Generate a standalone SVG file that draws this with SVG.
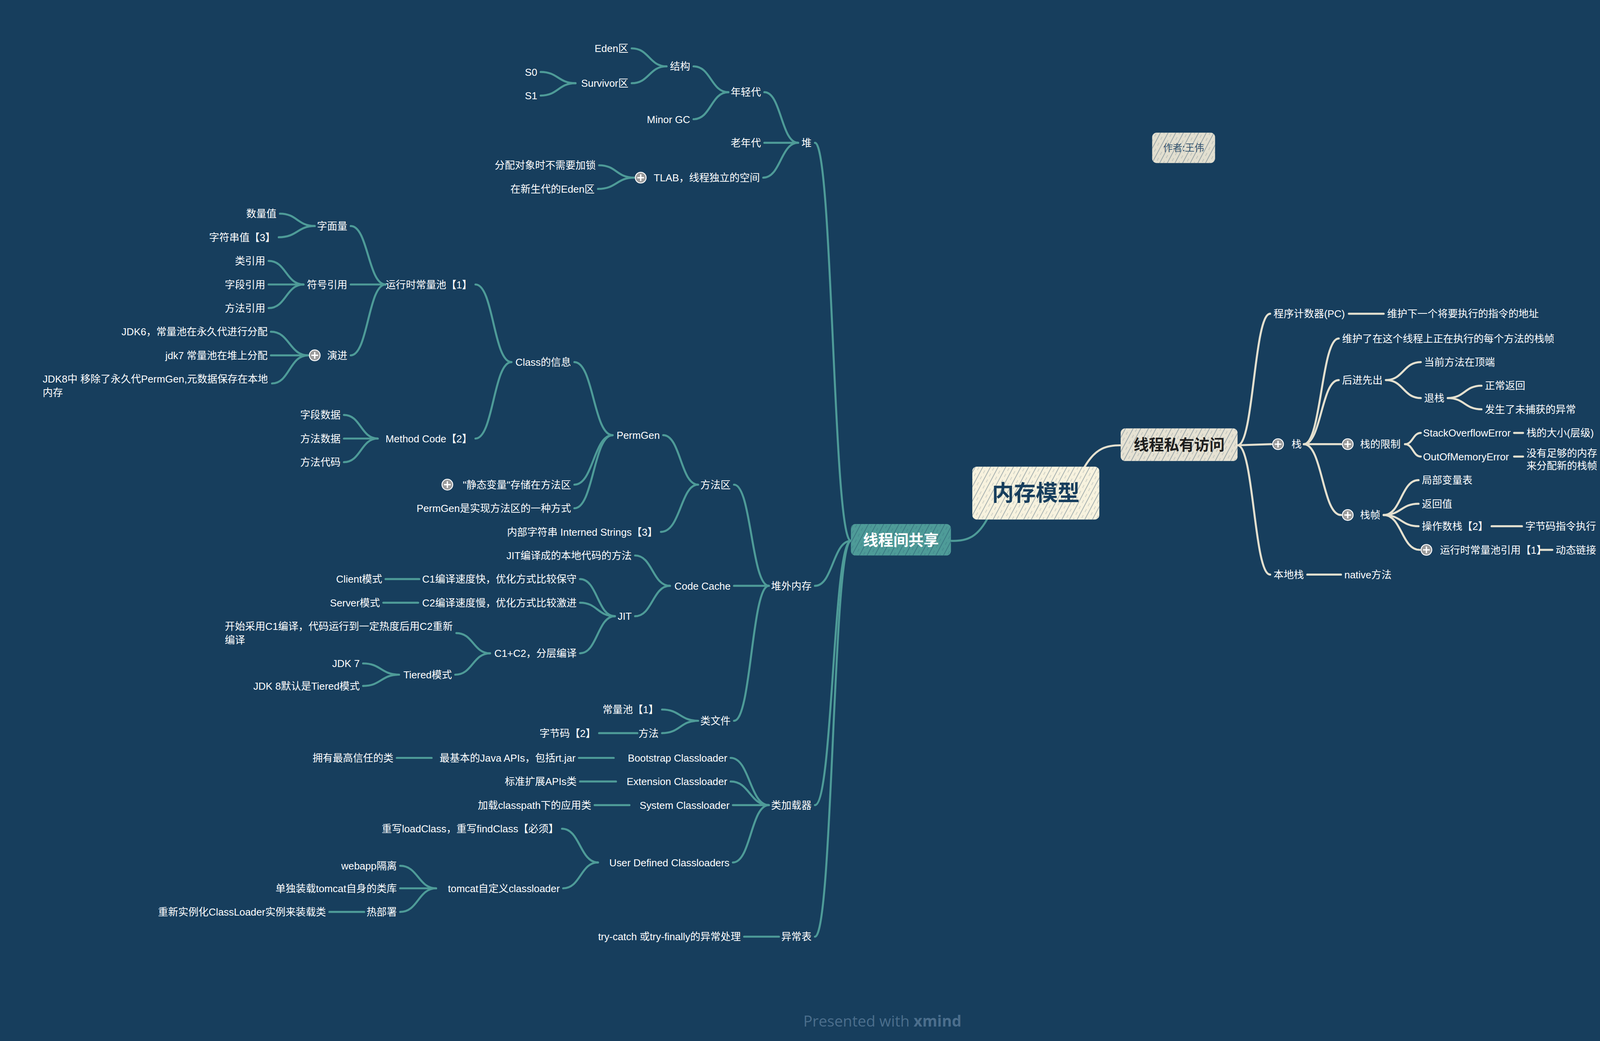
<svg xmlns="http://www.w3.org/2000/svg" width="4512" height="2664" viewBox="0 0 4512 2664">
<defs>
<style>
.t{font-family:"Liberation Sans","Noto Sans CJK SC",sans-serif;font-size:9px;fill:#ffffff}
.e{text-anchor:end}
.lt{fill:none;stroke:#4e9b98;stroke-width:1.8;stroke-linecap:round}
.lc{fill:none;stroke:#e4e0cf;stroke-width:1.8;stroke-linecap:round}
.ic circle{fill:#9b9b9b;stroke:#ffffff;stroke-width:0.8}
.ic path{stroke:#ffffff;stroke-width:1.2;fill:none}
</style>
<pattern id="hatch" patternUnits="userSpaceOnUse" width="6" height="6" patternTransform="rotate(28)">
<line x1="1" y1="0" x2="1" y2="6" stroke="#173e5d" stroke-width="0.45" stroke-opacity="0.55"/>
<line x1="4" y1="0" x2="4" y2="3" stroke="#173e5d" stroke-width="0.3" stroke-opacity="0.4"/>
</pattern>
</defs>
<rect width="4512" height="2664" fill="#173e5d"/>
<g transform="scale(2.87755)">

<g id="connectors">
<path class="lt" d="M878,462 C868,480 858,481 846,481"/>
<path class="lc" d="M965,415 C975,398 985,396 997,396"/>
<!-- left tree -->
<path class="lt" d="M757,481 C741,481 741,127 725,127"/>
<path class="lt" d="M757,481 C741,481 741,521 725,521"/>
<path class="lt" d="M757,481 C741,481 741,716 725,716"/>
<path class="lt" d="M757,481 C741,481 741,833 725,833"/>
<path class="lt" d="M710,127 C695,127 695,82 680,82"/>
<path class="lt" d="M710,127 L680,127"/>
<path class="lt" d="M710,127 C694.5,127 694.5,158 679,158"/>
<path class="lt" d="M648,82 C632.5,82 632.5,59 617,59"/>
<path class="lt" d="M648,82 C632.5,82 632.5,106 617,106"/>
<path class="lt" d="M593,59 C577.5,59 577.5,43 562,43"/>
<path class="lt" d="M593,59 C577.5,59 577.5,74 562,74"/>
<path class="lt" d="M512,74 C496.5,74 496.5,64 481,64"/>
<path class="lt" d="M512,74 C496.5,74 496.5,85 481,85"/>
<path class="lt" d="M564,158 C548.5,158 548.5,147 533,147"/>
<path class="lt" d="M564,158 C548.5,158 548.5,168 532,168"/>
<path class="lt" d="M684,521 C668.5,521 668.5,431 653,431"/>
<path class="lt" d="M684,521 L653,521"/>
<path class="lt" d="M684,521 C668.5,521 668.5,641 653,641"/>
<path class="lt" d="M621,431 C605.5,431 605.5,387 590,387"/>
<path class="lt" d="M621,431 C605.5,431 605.5,473 588,473"/>
<path class="lt" d="M545,387 C528,387 528,322 511,322"/>
<path class="lt" d="M545,387 C528,387 528,431 511,431"/>
<path class="lt" d="M545,387 C528,387 528,452 511,452"/>
<path class="lt" d="M455,322 C439,322 439,253 423,253"/>
<path class="lt" d="M455,322 C439,322 439,390 423,390"/>
<path class="lt" d="M343,253 C327.5,253 327.5,201 312,201"/>
<path class="lt" d="M343,253 L312,253"/>
<path class="lt" d="M343,253 C327.5,253 327.5,316 312,316"/>
<path class="lt" d="M280,201 C264.5,201 264.5,190 249,190"/>
<path class="lt" d="M280,201 C264.5,201 264.5,211 248,211"/>
<path class="lt" d="M270,253 C254.5,253 254.5,232 239,232"/>
<path class="lt" d="M270,253 L239,253"/>
<path class="lt" d="M270,253 C254.5,253 254.5,274 239,274"/>
<path class="lt" d="M274,316 C257.5,316 257.5,295 241,295"/>
<path class="lt" d="M274,316 L241,316"/>
<path class="lt" d="M274,316 C257.5,316 257.5,341 242,341"/>
<path class="lt" d="M336,390 C321,390 321,369 306,369"/>
<path class="lt" d="M336,390 L306,390"/>
<path class="lt" d="M336,390 C321,390 321,411 306,411"/>
<path class="lt" d="M596,521 C580.5,521 580.5,494 565,494"/>
<path class="lt" d="M596,521 C580.5,521 580.5,548 565,548"/>
<path class="lt" d="M547,548 C531.5,548 531.5,515 516,515"/>
<path class="lt" d="M547,548 C531.5,548 531.5,536 516,536"/>
<path class="lt" d="M547,548 C531.5,548 531.5,581 516,581"/>
<path class="lt" d="M373,515 L343,515"/>
<path class="lt" d="M372,536 L341,536"/>
<path class="lt" d="M436,581 C421,581 421,563 406,563"/>
<path class="lt" d="M436,581 C420.5,581 420.5,600 405,600"/>
<path class="lt" d="M355,600 C339,600 339,590 323,590"/>
<path class="lt" d="M355,600 C339,600 339,610 323,610"/>
<path class="lt" d="M621,641 C605,641 605,631 589,631"/>
<path class="lt" d="M621,641 C605,641 605,652 589,652"/>
<path class="lt" d="M567,652 L533,652"/>
<path class="lt" d="M684,716 C667,716 667,674 650,674"/>
<path class="lt" d="M684,716 C667,716 667,695 650,695"/>
<path class="lt" d="M684,716 L652,716"/>
<path class="lt" d="M684,716 C668,716 668,767 652,767"/>
<path class="lt" d="M546,674 L515,674"/>
<path class="lt" d="M384,674 L353,674"/>
<path class="lt" d="M548,695 L516,695"/>
<path class="lt" d="M560,716 L529,716"/>
<path class="lt" d="M532,767 C516,767 516,737 500,737"/>
<path class="lt" d="M532,767 C516.5,767 516.5,790 501,790"/>
<path class="lt" d="M388,790 C372,790 372,770 356,770"/>
<path class="lt" d="M388,790 L356,790"/>
<path class="lt" d="M388,790 C372,790 372,811 356,811"/>
<path class="lt" d="M324,811 L293,811"/>
<path class="lt" d="M693,833 L662,833"/>
<!-- right tree -->
<path class="lc" d="M1101,396 C1115.5,396 1115.5,279 1130,279"/>
<path class="lc" d="M1101,396 L1131,395"/>
<path class="lc" d="M1101,396 C1115.5,396 1115.5,511 1130,511"/>
<path class="lc" d="M1200,279 L1231,279"/>
<path class="lc" d="M1160,395 C1175.5,395 1175.5,301 1191,301"/>
<path class="lc" d="M1160,395 C1175.5,395 1175.5,338 1191,338"/>
<path class="lc" d="M1160,395 L1193,395"/>
<path class="lc" d="M1160,395 C1176.5,395 1176.5,458 1193,458"/>
<path class="lc" d="M1233,338 C1248.5,338 1248.5,322 1264,322"/>
<path class="lc" d="M1233,338 C1248.5,338 1248.5,354 1264,354"/>
<path class="lc" d="M1288,354 C1303,354 1303,343 1318,343"/>
<path class="lc" d="M1288,354 C1303,354 1303,364 1318,364"/>
<path class="lc" d="M1250,395 C1257,395 1257,385 1264,385"/>
<path class="lc" d="M1250,395 C1257,395 1257,406 1264,406"/>
<path class="lc" d="M1347,385 L1355,385"/>
<path class="lc" d="M1347,406 L1355,406"/>
<path class="lc" d="M1231,458 C1246.5,458 1246.5,427 1262,427"/>
<path class="lc" d="M1231,458 C1246.5,458 1246.5,448 1262,448"/>
<path class="lc" d="M1231,458 C1246.5,458 1246.5,468 1262,468"/>
<path class="lc" d="M1231,458 C1247,458 1247,489 1263,489"/>
<path class="lc" d="M1327,468 L1354,468"/>
<path class="lc" d="M1370,489 L1381,489"/>
<path class="lc" d="M1163,511 L1193,511"/>
</g>

<!-- central topics -->
<g id="n-root">
<rect x="865" y="415" width="113" height="47" rx="4" fill="#f7f2de"/>
<rect x="865" y="415" width="113" height="47" rx="4" fill="url(#hatch)"/>
<text x="921.5" y="445" text-anchor="middle" style="font-family:'Noto Sans CJK SC',sans-serif;font-size:19.5px;font-weight:bold;fill:#173e5d">内存模型</text>
</g>
<g id="n-shared">
<rect x="757" y="466" width="89" height="28" rx="4" fill="#4e9b98"/>
<rect x="757" y="466" width="89" height="28" rx="4" fill="url(#hatch)"/>
<text x="801.5" y="485" text-anchor="middle" style="font-family:'Noto Sans CJK SC',sans-serif;font-size:13.5px;font-weight:bold;fill:#ffffff">线程间共享</text>
</g>
<g id="n-private">
<rect x="997" y="381" width="104" height="29" rx="4" fill="#e6e2d3"/>
<rect x="997" y="381" width="104" height="29" rx="4" fill="url(#hatch)"/>
<text x="1049" y="400.5" text-anchor="middle" style="font-family:'Noto Sans CJK SC',sans-serif;font-size:13.5px;font-weight:bold;fill:#1e1e1e">线程私有访问</text>
</g>
<g id="n-author">
<rect x="1025" y="118" width="56" height="27" rx="4" fill="#e2dfd0"/>
<rect x="1025" y="118" width="56" height="27" rx="4" fill="url(#hatch)"/>
<text x="1053" y="134.5" text-anchor="middle" style="font-family:'Noto Sans CJK SC',sans-serif;font-size:8.5px;fill:#35546e">作者:王伟</text>
</g>

<!-- left tree nodes -->
<g id="n-heap"><text class="t e" x="722" y="130.3">堆</text></g>
<g id="n-young"><text class="t e" x="677" y="85.3">年轻代</text></g>
<g id="n-old"><text class="t e" x="677" y="130.3">老年代</text></g>
<g id="n-tlab"><g class="ic"><circle cx="570" cy="158" r="4.8"/><path d="M567,158 H573 M570,155 V161"/></g><text class="t e" x="676" y="161.3">TLAB，线程独立的空间</text></g>
<g id="n-struct"><text class="t e" x="614" y="62.3">结构</text></g>
<g id="n-minorgc"><text class="t e" x="614" y="109.3">Minor GC</text></g>
<g id="n-eden"><text class="t e" x="559" y="46.3">Eden区</text></g>
<g id="n-survivor"><text class="t e" x="559" y="77.3">Survivor区</text></g>
<g id="n-s0"><text class="t e" x="478" y="67.3">S0</text></g>
<g id="n-s1"><text class="t e" x="478" y="88.3">S1</text></g>
<g id="n-nolock"><text class="t e" x="530" y="150.3">分配对象时不需要加锁</text></g>
<g id="n-ineden"><text class="t e" x="529" y="171.3">在新生代的Eden区</text></g>

<g id="n-offheap"><text class="t e" x="722" y="524.3">堆外内存</text></g>
<g id="n-methodarea"><text class="t e" x="650" y="434.3">方法区</text></g>
<g id="n-codecache"><text class="t e" x="650" y="524.3">Code Cache</text></g>
<g id="n-classfile"><text class="t e" x="650" y="644.3">类文件</text></g>
<g id="n-permgen"><text class="t e" x="587" y="390.3">PermGen</text></g>
<g id="n-interned"><text class="t e" x="585" y="476.3">内部字符串 Interned Strings【3】</text></g>
<g id="n-classinfo"><text class="t e" x="508" y="325.3">Class的信息</text></g>
<g id="n-static"><g class="ic"><circle cx="398" cy="431" r="4.8"/><path d="M395,431 H401 M398,428 V434"/></g><text class="t e" x="508" y="434.3">"静态变量"存储在方法区</text></g>
<g id="n-permimpl"><text class="t e" x="508" y="455.3">PermGen是实现方法区的一种方式</text></g>
<g id="n-rcp"><text class="t e" x="420" y="256.3">运行时常量池【1】</text></g>
<g id="n-methodcode"><text class="t e" x="420" y="393.3">Method Code【2】</text></g>
<g id="n-literal"><text class="t e" x="309" y="204.3">字面量</text></g>
<g id="n-symref"><text class="t e" x="309" y="256.3">符号引用</text></g>
<g id="n-evolve"><g class="ic"><circle cx="280" cy="316" r="4.8"/><path d="M277,316 H283 M280,313 V319"/></g><text class="t e" x="309" y="319.3">演进</text></g>
<g id="n-numval"><text class="t e" x="246" y="193.3">数量值</text></g>
<g id="n-strval"><text class="t e" x="245" y="214.3">字符串值【3】</text></g>
<g id="n-classref"><text class="t e" x="236" y="235.3">类引用</text></g>
<g id="n-fieldref"><text class="t e" x="236" y="256.3">字段引用</text></g>
<g id="n-methodref"><text class="t e" x="236" y="277.3">方法引用</text></g>
<g id="n-jdk6"><text class="t e" x="238" y="298.3">JDK6，常量池在永久代进行分配</text></g>
<g id="n-jdk7"><text class="t e" x="238" y="319.3">jdk7 常量池在堆上分配</text></g>
<g id="n-jdk8"><text class="t" x="38" y="340.3">JDK8中 移除了永久代PermGen,元数据保存在本地</text><text class="t" x="38" y="352.3">内存</text></g>
<g id="n-fielddata"><text class="t e" x="303" y="372.3">字段数据</text></g>
<g id="n-methoddata"><text class="t e" x="303" y="393.3">方法数据</text></g>
<g id="n-methodcodes"><text class="t e" x="303" y="414.3">方法代码</text></g>
<g id="n-jitmethods"><text class="t e" x="562" y="497.3">JIT编译成的本地代码的方法</text></g>
<g id="n-jit"><text class="t e" x="562" y="551.3">JIT</text></g>
<g id="n-c1"><text class="t e" x="513" y="518.3">C1编译速度快，优化方式比较保守</text></g>
<g id="n-c2"><text class="t e" x="513" y="539.3">C2编译速度慢，优化方式比较激进</text></g>
<g id="n-c1c2"><text class="t e" x="513" y="584.3">C1+C2，分层编译</text></g>
<g id="n-client"><text class="t e" x="340" y="518.3">Client模式</text></g>
<g id="n-server"><text class="t e" x="338" y="539.3">Server模式</text></g>
<g id="n-startc1"><text class="t" x="200" y="560.3">开始采用C1编译，代码运行到一定热度后用C2重新</text><text class="t" x="200" y="572.3">编译</text></g>
<g id="n-tiered"><text class="t e" x="402" y="603.3">Tiered模式</text></g>
<g id="n-jdk7b"><text class="t e" x="320" y="593.3">JDK 7</text></g>
<g id="n-jdk8b"><text class="t e" x="320" y="613.3">JDK 8默认是Tiered模式</text></g>
<g id="n-cpool"><text class="t e" x="586" y="634.3">常量池【1】</text></g>
<g id="n-method"><text class="t e" x="586" y="655.3">方法</text></g>
<g id="n-bytecode"><text class="t e" x="530" y="655.3">字节码【2】</text></g>
<g id="n-classloader"><text class="t e" x="722" y="719.3">类加载器</text></g>
<g id="n-bootstrap"><text class="t e" x="647" y="677.3">Bootstrap Classloader</text></g>
<g id="n-extension"><text class="t e" x="647" y="698.3">Extension Classloader</text></g>
<g id="n-system"><text class="t e" x="649" y="719.3">System Classloader</text></g>
<g id="n-userdef"><text class="t e" x="649" y="770.3">User Defined Classloaders</text></g>
<g id="n-basicapi"><text class="t e" x="512" y="677.3">最基本的Java APIs，包括rt.jar</text></g>
<g id="n-trusted"><text class="t e" x="350" y="677.3">拥有最高信任的类</text></g>
<g id="n-extapi"><text class="t e" x="513" y="698.3">标准扩展APIs类</text></g>
<g id="n-classpath"><text class="t e" x="526" y="719.3">加载classpath下的应用类</text></g>
<g id="n-override"><text class="t e" x="497" y="740.3">重写loadClass，重写findClass【必须】</text></g>
<g id="n-tomcat"><text class="t e" x="498" y="793.3">tomcat自定义classloader</text></g>
<g id="n-webapp"><text class="t e" x="353" y="773.3">webapp隔离</text></g>
<g id="n-tomcatlib"><text class="t e" x="353" y="793.3">单独装载tomcat自身的类库</text></g>
<g id="n-hotdeploy"><text class="t e" x="353" y="814.3">热部署</text></g>
<g id="n-reinst"><text class="t e" x="290" y="814.3">重新实例化ClassLoader实例来装载类</text></g>
<g id="n-exctable"><text class="t e" x="722" y="836.3">异常表</text></g>
<g id="n-trycatch"><text class="t e" x="659" y="836.3">try-catch 或try-finally的异常处理</text></g>

<!-- right tree nodes -->
<g id="n-pc"><text class="t" x="1133" y="282.3">程序计数器(PC)</text></g>
<g id="n-pcdesc"><text class="t" x="1234" y="282.3">维护下一个将要执行的指令的地址</text></g>
<g id="n-stack"><g class="ic"><circle cx="1137" cy="395" r="4.8"/><path d="M1134,395 H1140 M1137,392 V398"/></g><text class="t" x="1149" y="398.3">栈</text></g>
<g id="n-stackdesc"><text class="t" x="1194" y="304.3">维护了在这个线程上正在执行的每个方法的栈帧</text></g>
<g id="n-lifo"><text class="t" x="1194" y="341.3">后进先出</text></g>
<g id="n-top"><text class="t" x="1267" y="325.3">当前方法在顶端</text></g>
<g id="n-pop"><text class="t" x="1267" y="357.3">退栈</text></g>
<g id="n-normret"><text class="t" x="1321" y="346.3">正常返回</text></g>
<g id="n-uncaught"><text class="t" x="1321" y="367.3">发生了未捕获的异常</text></g>
<g id="n-limit"><g class="ic"><circle cx="1199" cy="395" r="4.8"/><path d="M1196,395 H1202 M1199,392 V398"/></g><text class="t" x="1210" y="398.3">栈的限制</text></g>
<g id="n-soe"><text class="t" x="1266" y="388.3">StackOverflowError</text></g>
<g id="n-soedesc"><text class="t" x="1358" y="388.3">栈的大小(层级)</text></g>
<g id="n-oom"><text class="t" x="1266" y="409.3">OutOfMemoryError</text></g>
<g id="n-oomdesc"><text class="t" x="1358" y="406.3">没有足够的内存</text><text class="t" x="1358" y="417.3">来分配新的栈帧</text></g>
<g id="n-frame"><g class="ic"><circle cx="1199" cy="458" r="4.8"/><path d="M1196,458 H1202 M1199,455 V461"/></g><text class="t" x="1210" y="461.3">栈帧</text></g>
<g id="n-localvar"><text class="t" x="1265" y="430.3">局部变量表</text></g>
<g id="n-retval"><text class="t" x="1265" y="451.3">返回值</text></g>
<g id="n-opstack"><text class="t" x="1265" y="471.3">操作数栈【2】</text></g>
<g id="n-bcexec"><text class="t" x="1357" y="471.3">字节码指令执行</text></g>
<g id="n-rcpref"><g class="ic"><circle cx="1269" cy="489" r="4.8"/><path d="M1266,489 H1272 M1269,486 V492"/></g><text class="t" x="1281" y="492.3">运行时常量池引用【1】</text></g>
<g id="n-dynlink"><text class="t" x="1384" y="492.3">动态链接</text></g>
<g id="n-native"><text class="t" x="1133" y="514.3">本地栈</text></g>
<g id="n-nativem"><text class="t" x="1196" y="514.3">native方法</text></g>

<text x="785" y="913" text-anchor="middle" style="font-family:'Open Sans','Liberation Sans',sans-serif;font-size:13.5px;fill:#4b6e8c">Presented with <tspan font-weight="bold">xmind</tspan></text>
</g>
</svg>
